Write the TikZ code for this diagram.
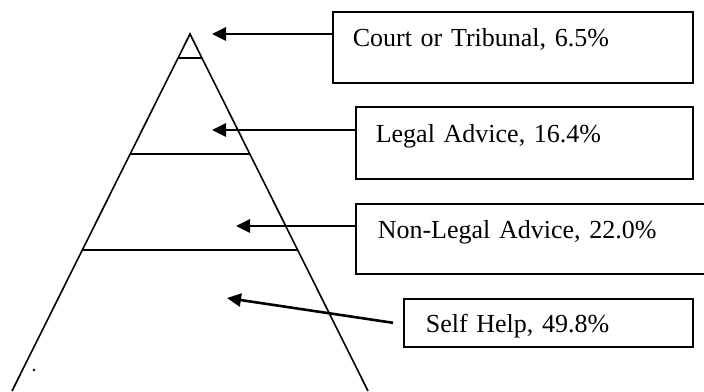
\documentclass[tikz,border=0pt]{standalone}
\usepackage{fontspec}
\setmainfont{Liberation Serif}
\usepackage{tikz}
\usetikzlibrary{positioning,arrows.meta,calc}
\tikzset{
  lbox/.style={draw,anchor=north west,align=left,inner xsep=20pt,inner ysep=0pt,line width=1.6pt,
    font=\fontsize{26}{30}\selectfont},
  arr/.style={-{Triangle[length=14pt,width=13pt]},line width=2.6pt},
  tier/.style={line width=1.6pt}}
\begin{document}
\begin{tikzpicture}[x=1pt,y=-1pt]
\useasboundingbox (0,0) rectangle (704,391);
% pyramid
\coordinate (apex) at (190,34);
\coordinate (bl) at (12,391);
\coordinate (br) at (368,391);
\draw[tier] (bl) -- (apex) -- (br);
\foreach \yy in {58,154,250}{
  \pgfmathsetmacro{\dx}{(\yy-34)*0.4986}
  \draw[tier] (190-\dx,\yy) -- (190+\dx,\yy);
}
\fill (34,370) circle (1.3pt);
% labels
\node[lbox,text width=320pt,text height=35pt,text depth=36pt] (court) at (332,11) {Court or Tribunal, 6.5\%};
\node[lbox,text width=297pt,text height=36pt,text depth=36pt] (legal) at (355,106) {Legal Advice, 16.4\%};
\node[lbox,inner xsep=22pt,text width=307pt,text height=35pt,text depth=35pt] (nonlegal) at (355,203) {Non-Legal Advice, 22.0\%};
\node[lbox,inner xsep=22pt,text width=245pt,text height=34pt,text depth=14pt] (self) at (403,298) {Self Help, 49.8\%};
% arrows
\coordinate (tcourt) at (212,34);
\coordinate (tlegal) at (212,130);
\coordinate (tnonlegal) at (236,226);
\coordinate (tself) at (227,298);
\draw[arr] (court.west |- tcourt) -- (tcourt);
\draw[arr] (legal.west |- tlegal) -- (tlegal);
\draw[arr] (nonlegal.west |- tnonlegal) -- (tnonlegal);
\draw[arr] ([xshift=-10pt]self.west) -- (tself);
\end{tikzpicture}
\end{document}
